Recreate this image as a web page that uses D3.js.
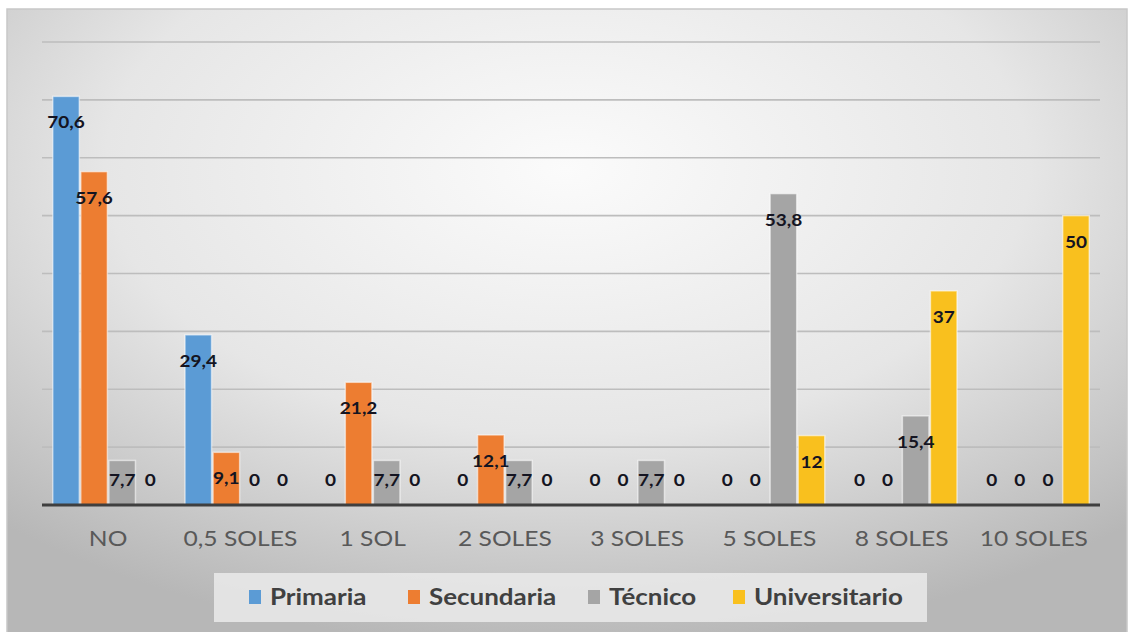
<!DOCTYPE html>
<html><head><meta charset="utf-8">
<script src="https://cdn.jsdelivr.net/npm/d3@7"></script>
<style>html,body{margin:0;padding:0;background:#fff;}svg{display:block;}</style>
</head><body>
<svg id="chart" width="1132" height="632"></svg>
<script>
const categories = ["NO","0,5 SOLES","1 SOL","2 SOLES","3 SOLES","5 SOLES","8 SOLES","10 SOLES"];
const seriesNames = ["Primaria","Secundaria","Técnico","Universitario"];
const primaria = [70.6,29.4,0,0,0,0,0,0];
const secundaria = [57.6,9.1,21.2,12.1,0,0,0,0];
const tecnico = [7.7,0,7.7,7.7,7.7,53.8,15.4,0];
const universitario = [0,0,0,0,0,12,37,50];
const yTicks = [10,20,30,40,50,60,70,80];
const colors = ["#5B9BD5","#ED7D31","#A5A5A5","#F9C01E"];

const seriesValues = [primaria, secundaria, tecnico, universitario];
const svg = d3.select("#chart");
const defs = svg.append("defs");
const rg = defs.append("radialGradient").attr("id","bg").attr("cx","50%").attr("cy","25%").attr("r","75%");
rg.append("stop").attr("offset","0%").attr("stop-color","#fbfbfb");
rg.append("stop").attr("offset","55%").attr("stop-color","#e6e6e6");
rg.append("stop").attr("offset","100%").attr("stop-color","#b7b7b7");

svg.append("rect").attr("x",7).attr("y",9).attr("width",1120).attr("height",640)
  .attr("fill","url(#bg)").attr("stroke","#c8c8c8").attr("stroke-width",1.5);

const pLeft = 42, pRight = 1100, pTop = 42, pBottom = 505;
const x0 = d3.scaleBand().domain(categories).range([pLeft,pRight]).padding(0);
const inner = 10;
const x1 = d3.scaleBand().domain(seriesNames).range([inner, x0.bandwidth()-inner]).padding(0);
const y = d3.scaleLinear().domain([0,80]).range([pBottom, pTop]);

// gridlines
svg.append("g").selectAll("line").data(yTicks).join("line")
  .attr("x1",pLeft).attr("x2",pRight).attr("y1",d=>y(d)).attr("y2",d=>y(d))
  .attr("stroke","#bdbdbd").attr("stroke-width",1.6);

// bars
const data = [];
categories.forEach((c,i)=>seriesNames.forEach((s,j)=>data.push({c,s,j,v:seriesValues[j][i]})));
svg.append("g").selectAll("rect").data(data.filter(d=>d.v>0)).join("rect")
  .attr("x",d=>x0(d.c)+x1(d.s)+0.75)
  .attr("width",x1.bandwidth()-1.5)
  .attr("y",d=>y(d.v))
  .attr("height",d=>y(0)-y(d.v))
  .attr("fill",d=>colors[d.j])
  .attr("stroke","rgba(255,255,255,0.55)").attr("stroke-width",1.5);

// baseline
svg.append("line").attr("x1",pLeft).attr("x2",pRight).attr("y1",y(0)).attr("y2",y(0))
  .attr("stroke","#3f3f3f").attr("stroke-width",3);

// data labels
svg.append("g").selectAll("text").data(data).join("text")
  .attr("transform",d=>`translate(${x0(d.c)+x1(d.s)+x1.bandwidth()/2},${Math.min(y(d.v)+26, y(0)-25)}) scale(1.12,1)`)
  .attr("dy","0.35em")
  .attr("text-anchor","middle")
  .attr("font-family","Lato, 'Open Sans', sans-serif")
  .attr("font-weight","bold").attr("font-size",17)
  .attr("fill","#141421")
  .text(d=>String(d.v).replace(".",","));

// x axis labels
svg.append("g").selectAll("text").data(categories).join("text")
  .attr("transform",d=>`translate(${x0(d)+x0.bandwidth()/2},546) scale(1.12,1)`)
  .attr("text-anchor","middle")
  .attr("font-family","Lato, 'Open Sans', sans-serif")
  .attr("font-size",22).attr("fill","#595959")
  .text(d=>d);

// legend
svg.append("rect").attr("x",214).attr("y",573).attr("width",713).attr("height",49)
  .attr("fill","#e8e8e8").attr("opacity",0.9);
const legendX = [249,408,588,733];
const lg = svg.append("g").selectAll("g").data(seriesNames).join("g")
  .attr("transform",(d,i)=>`translate(${legendX[i]},597)`);
lg.append("rect").attr("x",0).attr("y",-7).attr("width",12).attr("height",14)
  .attr("fill",(d,i)=>colors[i]);
lg.append("text").attr("transform","translate(21,7.5) scale(1.18,1)")
  .attr("font-family","Lato, 'Open Sans', sans-serif")
  .attr("font-weight","bold").attr("font-size",22).attr("fill","#404040")
  .text(d=>d);
</script>
</body></html>
